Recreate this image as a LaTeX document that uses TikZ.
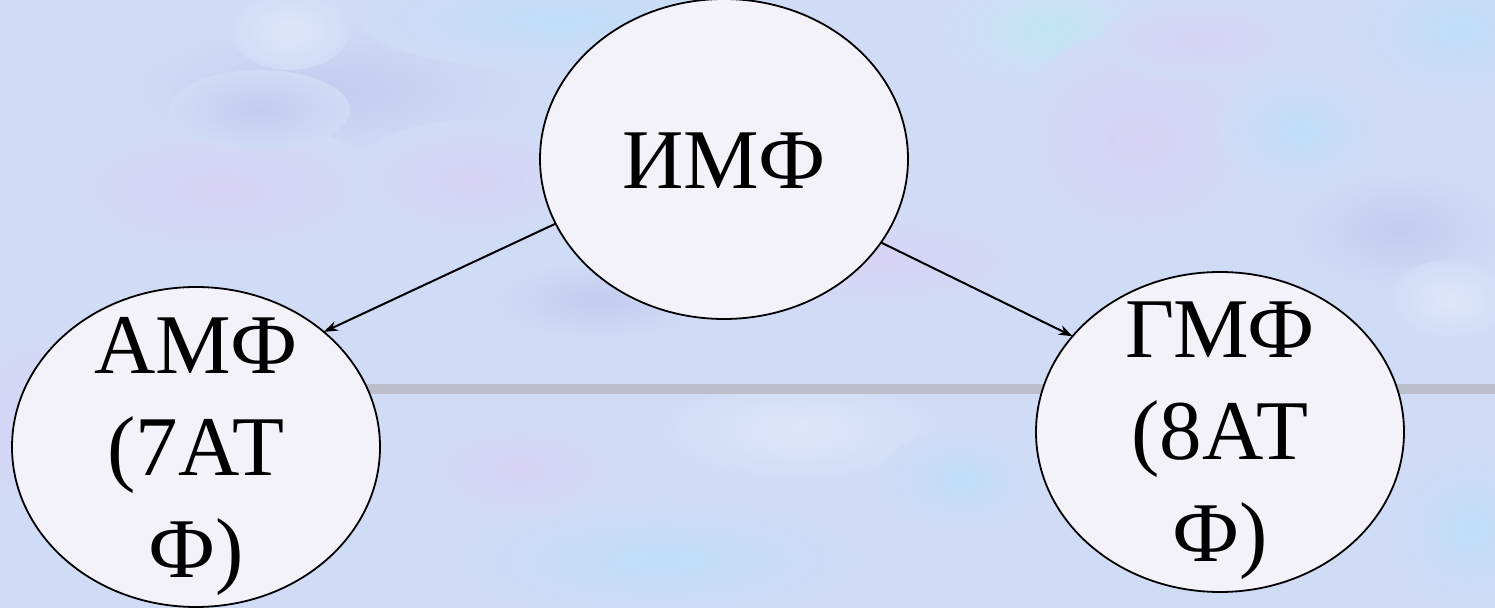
\documentclass[tikz,border=0pt]{standalone}
\usepackage{fontspec}
\setmainfont{Liberation Serif}
\usetikzlibrary{arrows.meta,shapes.geometric}
\definecolor{bgbase}{RGB}{208,220,246}
\definecolor{lav}{RGB}{216,210,244}
\definecolor{sky}{RGB}{192,222,248}
\definecolor{cyanish}{RGB}{194,228,244}
\definecolor{deepblue}{RGB}{196,204,238}
\definecolor{pale}{RGB}{222,230,250}
\definecolor{ellfill}{RGB}{242,242,248}
\definecolor{bar}{RGB}{188,190,204}
\tikzset{
  ell/.style={ellipse, draw=black, line width=0.9pt, fill=ellfill,
    minimum width=184pt, minimum height=160pt, inner sep=0pt, outer sep=0pt},
  lbl/.style={font=\fontsize{42.5}{51}\selectfont, align=center, inner sep=0pt},
  arr/.style={line width=1pt, -{Stealth[length=7pt,width=5pt]}}
}
\begin{document}
\begin{tikzpicture}[x=0.5pt,y=-0.5pt]
% background
\fill[bgbase] (0,0) rectangle (1495,608);
\useasboundingbox (0,0) rectangle (1495,608);
\shade[inner color=deepblue, outer color=bgbase] (330,90) ellipse (200 and 70);
\shade[inner color=lav, outer color=bgbase] (220,190) ellipse (170 and 70);
\shade[inner color=deepblue, outer color=bgbase] (260,110) ellipse (90 and 40);
\shade[inner color=sky, outer color=bgbase] (560,20) ellipse (200 and 50);
\shade[inner color=pale, outer color=bgbase] (290,30) ellipse (60 and 40);
\shade[inner color=lav, outer color=bgbase] (470,180) ellipse (120 and 60);
\shade[inner color=cyanish, outer color=bgbase] (1050,30) ellipse (110 and 60);
\shade[inner color=lav, outer color=bgbase] (1140,140) ellipse (130 and 110);
\shade[inner color=lav, outer color=bgbase] (1200,40) ellipse (100 and 40);
\shade[inner color=sky, outer color=bgbase] (1460,30) ellipse (110 and 70);
\shade[inner color=sky, outer color=bgbase] (1300,130) ellipse (80 and 60);
\shade[inner color=deepblue, outer color=bgbase] (1400,230) ellipse (110 and 60);
\shade[inner color=pale, outer color=bgbase] (1450,300) ellipse (60 and 40);
\shade[inner color=lav, outer color=bgbase] (40,420) ellipse (80 and 100);
\shade[inner color=sky, outer color=bgbase] (660,560) ellipse (200 and 60);
\shade[inner color=pale, outer color=bgbase] (800,430) ellipse (140 and 50);
\shade[inner color=lav, outer color=bgbase] (880,260) ellipse (160 and 50);
\shade[inner color=deepblue, outer color=bgbase] (600,300) ellipse (110 and 40);
\shade[inner color=sky, outer color=bgbase] (1470,530) ellipse (80 and 80);
\shade[inner color=lav, outer color=bgbase] (520,470) ellipse (100 and 50);
\shade[inner color=sky, outer color=bgbase] (960,480) ellipse (80 and 50);
% horizontal bar
\draw[bar, line width=5pt] (200,389) -- (1495,389);
% nodes
\node[ell] (imf) at (724,159) {};
\node[ell] (amf) at (196,447) {};
\node[ell] (gmf) at (1220,432) {};
\node[lbl] (imft) at (724,161) {ИМФ};
\node[lbl] (amft) at (196,456) {АМФ\\(7АТ\\Ф)};
\node[lbl] (gmft) at (1220,441) {ГМФ\\(8АТ\\Ф)};
% connectors
\draw[arr] (imf.201) -- (amf.42.6);
\draw[arr] (imf.332) -- (gmf.147.5);
\end{tikzpicture}
\end{document}
